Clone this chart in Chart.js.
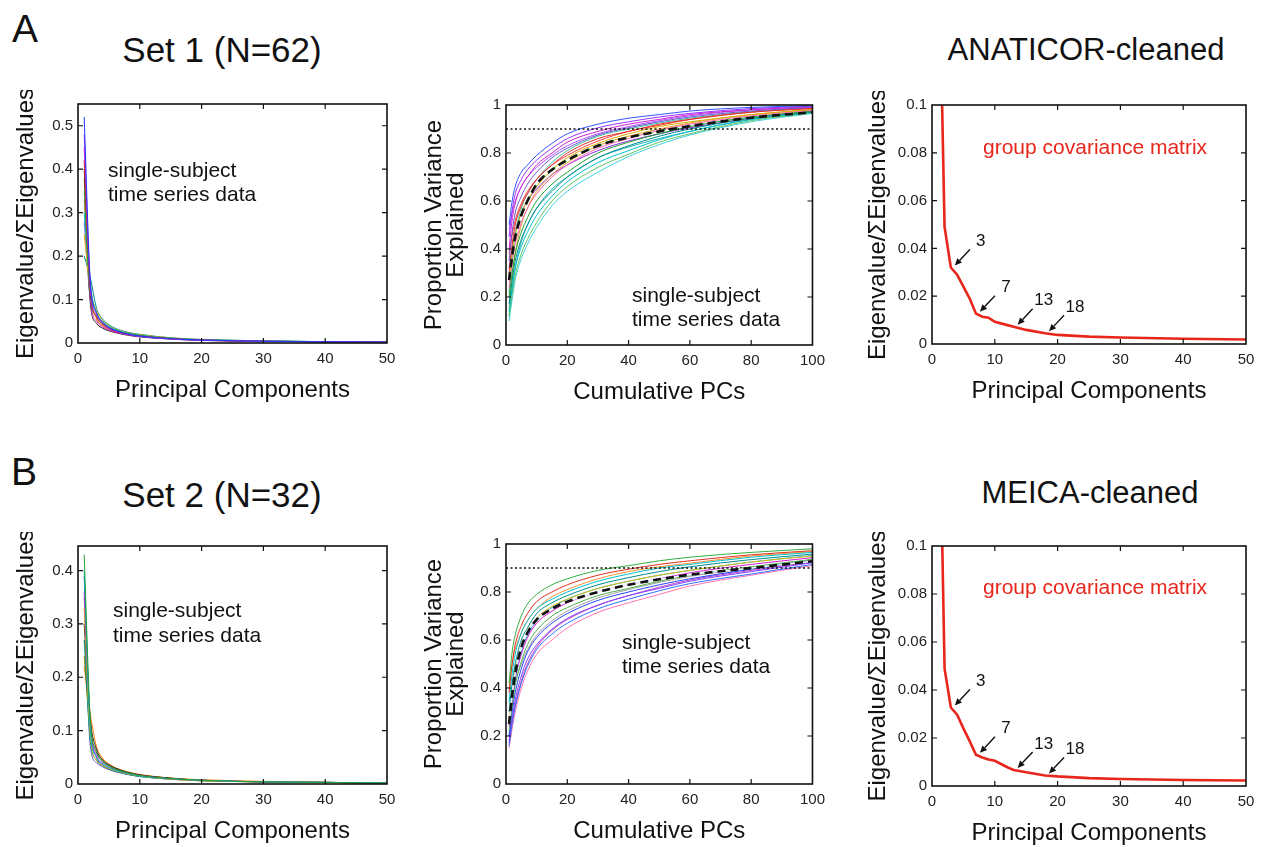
<!DOCTYPE html>
<html><head><meta charset="utf-8">
<script src="https://cdn.jsdelivr.net/npm/chart.js@4.4.0/dist/chart.umd.min.js"></script>
<style>
html,body{margin:0;padding:0;background:#fff;}
body{width:1262px;height:847px;position:relative;overflow:hidden;font-family:"Liberation Sans",Arial,Helvetica,sans-serif;color:#111;}
canvas{position:absolute;}
.t{position:absolute;white-space:nowrap;line-height:1;}
</style></head><body>
<script>
// ---------------- DATA ----------------
const spectraX = [1,2,3,4,5,6,8,10,15,20,30,40,50];
const spectraXTicks = [0,10,20,30,40,50];
const set1YTicks = [0,0.1,0.2,0.3,0.4,0.5];
const set1YLabels = ["0","0.1","0.2","0.3","0.4","0.5"];
const set2YTicks = [0,0.1,0.2,0.3,0.4];
const set2YLabels = ["0","0.1","0.2","0.3","0.4"];

const set1Spectra = [
  [0.52,0.14,0.070,0.048,0.036,0.029,0.021,0.016,0.010,0.007,0.004,0.003,0.002],
  [0.48,0.13,0.065,0.045,0.034,0.028,0.020,0.015,0.009,0.006,0.004,0.003,0.002],
  [0.42,0.12,0.060,0.042,0.033,0.027,0.020,0.016,0.010,0.007,0.004,0.003,0.002],
  [0.35,0.11,0.060,0.044,0.035,0.029,0.022,0.017,0.011,0.007,0.004,0.003,0.002],
  [0.30,0.13,0.070,0.050,0.038,0.031,0.023,0.018,0.011,0.008,0.005,0.003,0.002],
  [0.45,0.10,0.050,0.037,0.030,0.025,0.019,0.015,0.010,0.007,0.004,0.003,0.002],
  [0.25,0.12,0.075,0.052,0.040,0.032,0.024,0.019,0.012,0.008,0.005,0.003,0.002],
  [0.40,0.09,0.045,0.034,0.028,0.024,0.018,0.014,0.009,0.006,0.004,0.003,0.002],
  [0.20,0.15,0.080,0.055,0.042,0.034,0.025,0.020,0.012,0.008,0.005,0.003,0.002],
  [0.38,0.14,0.068,0.046,0.035,0.028,0.021,0.016,0.010,0.007,0.004,0.003,0.002],
  [0.33,0.11,0.055,0.040,0.032,0.026,0.020,0.015,0.010,0.006,0.004,0.003,0.002],
  [0.28,0.10,0.062,0.047,0.037,0.030,0.022,0.017,0.011,0.007,0.004,0.003,0.002]
];
const set2Spectra = [
  [0.43,0.12,0.060,0.042,0.034,0.028,0.021,0.016,0.010,0.007,0.004,0.003,0.002],
  [0.40,0.10,0.050,0.038,0.031,0.026,0.020,0.015,0.010,0.007,0.004,0.003,0.002],
  [0.36,0.11,0.055,0.040,0.033,0.027,0.020,0.016,0.010,0.007,0.004,0.003,0.002],
  [0.33,0.09,0.045,0.035,0.029,0.025,0.019,0.015,0.009,0.006,0.004,0.003,0.002],
  [0.30,0.12,0.065,0.045,0.036,0.030,0.022,0.017,0.011,0.007,0.004,0.003,0.002],
  [0.27,0.08,0.045,0.034,0.028,0.024,0.018,0.014,0.009,0.006,0.004,0.003,0.002],
  [0.24,0.10,0.060,0.044,0.035,0.029,0.022,0.017,0.011,0.007,0.004,0.003,0.002],
  [0.22,0.13,0.070,0.048,0.038,0.031,0.023,0.018,0.011,0.008,0.005,0.003,0.002],
  [0.35,0.07,0.040,0.032,0.027,0.023,0.018,0.014,0.009,0.006,0.004,0.003,0.002],
  [0.39,0.11,0.050,0.036,0.030,0.025,0.019,0.015,0.010,0.007,0.004,0.003,0.002]
];

const cumX = [1,2,3,5,7,10,15,20,30,40,50,60,80,100];
const cumXTicks = [0,20,40,60,80,100];
const cumYTicks = [0,0.2,0.4,0.6,0.8,1];
const cumYLabels = ["0","0.2","0.4","0.6","0.8","1"];
const varianceThreshold = 0.9;

const set1Cum = [
  [0.50,0.60,0.66,0.72,0.75,0.79,0.84,0.88,0.920,0.945,0.960,0.975,0.990,0.997],
  [0.45,0.56,0.63,0.69,0.73,0.77,0.82,0.86,0.905,0.930,0.950,0.965,0.985,0.995],
  [0.40,0.52,0.59,0.66,0.70,0.75,0.80,0.845,0.890,0.920,0.940,0.960,0.980,0.993],
  [0.35,0.47,0.55,0.62,0.67,0.72,0.78,0.82,0.875,0.905,0.930,0.950,0.975,0.990],
  [0.30,0.42,0.50,0.58,0.63,0.69,0.75,0.80,0.860,0.890,0.920,0.940,0.970,0.985],
  [0.27,0.38,0.46,0.55,0.60,0.66,0.73,0.78,0.840,0.880,0.910,0.930,0.960,0.982],
  [0.24,0.34,0.42,0.51,0.57,0.63,0.70,0.75,0.820,0.860,0.895,0.920,0.955,0.978],
  [0.20,0.30,0.38,0.47,0.53,0.60,0.67,0.72,0.800,0.845,0.880,0.910,0.950,0.975],
  [0.17,0.27,0.35,0.44,0.50,0.57,0.64,0.70,0.780,0.830,0.870,0.900,0.945,0.972],
  [0.14,0.24,0.32,0.41,0.47,0.54,0.62,0.68,0.760,0.810,0.855,0.890,0.940,0.970],
  [0.12,0.21,0.29,0.38,0.44,0.51,0.60,0.66,0.740,0.795,0.845,0.880,0.935,0.967],
  [0.10,0.19,0.27,0.36,0.42,0.49,0.58,0.64,0.720,0.785,0.835,0.875,0.930,0.965],
  [0.48,0.55,0.60,0.66,0.70,0.74,0.79,0.83,0.880,0.910,0.935,0.955,0.980,0.992],
  [0.38,0.46,0.52,0.59,0.64,0.69,0.75,0.79,0.850,0.890,0.915,0.940,0.970,0.987],
  [0.22,0.36,0.46,0.57,0.63,0.69,0.76,0.81,0.870,0.900,0.925,0.945,0.972,0.988],
  [0.15,0.28,0.38,0.50,0.57,0.64,0.71,0.76,0.830,0.870,0.900,0.925,0.960,0.980],
  [0.32,0.40,0.47,0.55,0.60,0.65,0.71,0.75,0.810,0.850,0.880,0.905,0.945,0.972],
  [0.12,0.23,0.32,0.43,0.50,0.57,0.65,0.70,0.780,0.825,0.860,0.890,0.940,0.968]
];
const set1CumMean = [0.27,0.37,0.45,0.54,0.60,0.67,0.73,0.77,0.83,0.865,0.89,0.912,0.947,0.97];

const set2Cum = [
  [0.42,0.55,0.62,0.70,0.75,0.79,0.83,0.855,0.890,0.910,0.930,0.945,0.965,0.980],
  [0.38,0.50,0.58,0.66,0.71,0.76,0.80,0.830,0.870,0.895,0.915,0.930,0.955,0.972],
  [0.34,0.46,0.54,0.63,0.68,0.73,0.77,0.800,0.845,0.875,0.900,0.915,0.945,0.965],
  [0.30,0.42,0.50,0.60,0.65,0.71,0.755,0.785,0.830,0.860,0.885,0.905,0.935,0.958],
  [0.27,0.38,0.47,0.57,0.63,0.69,0.74,0.770,0.815,0.845,0.870,0.890,0.925,0.950],
  [0.24,0.35,0.44,0.54,0.61,0.67,0.72,0.755,0.800,0.830,0.855,0.880,0.915,0.943],
  [0.22,0.32,0.41,0.51,0.58,0.64,0.70,0.735,0.785,0.815,0.845,0.870,0.905,0.936],
  [0.20,0.30,0.38,0.48,0.55,0.61,0.67,0.710,0.765,0.800,0.830,0.855,0.895,0.930],
  [0.18,0.27,0.35,0.45,0.52,0.58,0.645,0.690,0.745,0.785,0.815,0.845,0.885,0.922],
  [0.16,0.25,0.32,0.42,0.49,0.56,0.625,0.670,0.730,0.770,0.805,0.835,0.875,0.915],
  [0.15,0.23,0.30,0.40,0.47,0.54,0.60,0.650,0.715,0.755,0.790,0.825,0.870,0.910],
  [0.40,0.50,0.56,0.63,0.68,0.73,0.78,0.810,0.855,0.885,0.905,0.920,0.950,0.968],
  [0.20,0.33,0.43,0.55,0.62,0.68,0.735,0.770,0.815,0.845,0.870,0.890,0.925,0.952],
  [0.28,0.36,0.42,0.50,0.56,0.62,0.68,0.720,0.775,0.810,0.840,0.865,0.900,0.935],
  [0.17,0.26,0.33,0.43,0.50,0.57,0.64,0.685,0.745,0.785,0.820,0.850,0.890,0.925]
];
const set2CumMean = [0.25,0.37,0.46,0.57,0.63,0.685,0.73,0.76,0.80,0.83,0.853,0.872,0.90,0.928];

const groupX = [1,2,3,4,5,6,7,8,9,10,12,13,15,18,20,25,30,40,50];
const groupYTicks = [0,0.02,0.04,0.06,0.08,0.1];
const groupYLabels = ["0","0.02","0.04","0.06","0.08","0.1"];
const anaticorGroup = [0.18,0.049,0.032,0.029,0.024,0.019,0.0127,0.0114,0.011,0.0093,0.0079,0.0072,0.0059,0.0045,0.0038,0.0031,0.0027,0.0022,0.0019];
const meicaGroup    = [0.19,0.049,0.0327,0.0297,0.024,0.0187,0.013,0.0119,0.011,0.0105,0.0078,0.0067,0.0057,0.0044,0.0040,0.0033,0.0029,0.0025,0.0023];
const markedPCs = [3,7,13,18];

// ---------------- STYLE ----------------
const FONT = "'Liberation Sans', Arial, Helvetica, sans-serif";
Chart.defaults.font.family = FONT;
Chart.defaults.color = '#111';
const spectraColors = ['#2233ff','#9b30ff','#e0201a','#20a030','#00b8c8','#d020d0','#e8b000','#222222','#008c8c','#8c8c00','#ff7f0e','#6a5acd'];
const cum1Colors = ['#3355ff','#9b30ff','#d020d0','#6a5acd','#e03030','#d8b000','#ff66aa','#20a030','#008c8c','#00c0d0','#60c060','#40d0e0',
                    '#b050ff','#ff4040','#40c0a0','#e0a030','#8a2be2','#20b0b0'];
const cum2Colors = ['#30b040','#e03020','#00c0d0','#008c8c','#d8c000','#d020d0','#50b050','#2244ff','#8040ff','#3070ff','#ff70b0',
                    '#ff9030','#20a0ff','#a0a0a0','#c040c0'];

const framePlugin = {
  id: 'frame',
  afterDraw(chart) {
    const {ctx, chartArea: a, scales} = chart;
    ctx.save();
    ctx.strokeStyle = '#111';
    ctx.lineWidth = 1.6;
    ctx.strokeRect(a.left, a.top, a.right - a.left, a.bottom - a.top);
    ctx.lineWidth = 1.2;
    const L = 5;
    ctx.beginPath();
    scales.x.ticks.forEach(t => {
      const px = scales.x.getPixelForValue(t.value);
      if (px <= a.left + 1 || px >= a.right - 1) return;
      ctx.moveTo(px, a.bottom); ctx.lineTo(px, a.bottom - L);
      ctx.moveTo(px, a.top); ctx.lineTo(px, a.top + L);
    });
    scales.y.ticks.forEach(t => {
      const py = scales.y.getPixelForValue(t.value);
      if (py <= a.top + 1 || py >= a.bottom - 1) return;
      ctx.moveTo(a.left, py); ctx.lineTo(a.left + L, py);
      ctx.moveTo(a.right, py); ctx.lineTo(a.right - L, py);
    });
    ctx.stroke();
    ctx.restore();
  }
};

const arrowPlugin = {
  id: 'pcArrows',
  afterDatasetsDraw(chart, args, opts) {
    if (!opts || !opts.pcs) return;
    const {ctx, scales} = chart;
    ctx.save();
    ctx.strokeStyle = '#111'; ctx.fillStyle = '#111'; ctx.lineWidth = 1.4;
    ctx.font = '17px ' + FONT;
    ctx.textAlign = 'center'; ctx.textBaseline = 'middle';
    opts.pcs.forEach(pc => {
      const i = opts.xs.indexOf(pc);
      const tx = scales.x.getPixelForValue(pc) + 4;
      const ty = scales.y.getPixelForValue(opts.ys[i]) - 2;
      const sx = tx + 15, sy = ty - 16;
      const ang = Math.atan2(ty - sy, tx - sx);
      const hl = 7, hw = 3.2;
      const bx = tx - hl * Math.cos(ang), by = ty - hl * Math.sin(ang);
      ctx.beginPath(); ctx.moveTo(sx, sy); ctx.lineTo(bx, by); ctx.stroke();
      ctx.beginPath();
      ctx.moveTo(tx, ty);
      ctx.lineTo(bx + hw * Math.sin(ang), by - hw * Math.cos(ang));
      ctx.lineTo(bx - hw * Math.sin(ang), by + hw * Math.cos(ang));
      ctx.closePath(); ctx.fill();
      ctx.fillText(String(pc), tx + 26, ty - 24);
    });
    ctx.restore();
  }
};

function makeChart(cfg) {
  const pt = 10, pr = 16;
  const yW = cfg.yW, xH = 66;
  const w = (cfg.box[2] - cfg.box[0]) + yW + pr;
  const h = (cfg.box[3] - cfg.box[1]) + pt + xH;
  const cv = document.createElement('canvas');
  cv.width = w; cv.height = h;
  cv.style.left = (cfg.box[0] - yW) + 'px';
  cv.style.top = (cfg.box[1] - pt) + 'px';
  cv.style.width = w + 'px'; cv.style.height = h + 'px';
  document.body.appendChild(cv);
  const titleFont = {size: 24, family: FONT, lineHeight: cfg.yLineHeight || 1.2};
  return new Chart(cv, {
    type: 'line',
    data: {datasets: cfg.datasets},
    options: {
      responsive: false, animation: false, devicePixelRatio: 1, events: [],
      layout: {padding: {top: pt, right: pr, left: 0, bottom: 0}},
      elements: {point: {radius: 0}},
      plugins: {legend: {display: false}, tooltip: {enabled: false}, pcArrows: cfg.arrows || {}},
      scales: {
        x: {
          type: 'linear', min: cfg.xTicks[0], max: cfg.xTicks[cfg.xTicks.length - 1],
          grid: {display: false, drawTicks: false}, border: {display: false},
          afterBuildTicks: s => { s.ticks = cfg.xTicks.map(v => ({value: v})); },
          afterFit: s => { s.height = xH; },
          ticks: {padding: 7, font: {size: 15, family: FONT}, color: '#222', maxRotation: 0,
                  callback: (v, i) => String(cfg.xTicks[i])},
          title: {display: true, text: cfg.xTitle, font: {size: 24, family: FONT}, color: '#111', padding: {top: 4, bottom: 4}}
        },
        y: {
          type: 'linear', min: cfg.yMin, max: cfg.yMax,
          grid: {display: false, drawTicks: false}, border: {display: false},
          afterBuildTicks: s => { s.ticks = cfg.yTicks.map(v => ({value: v})); },
          afterFit: s => { s.width = yW; },
          ticks: {padding: 5, font: {size: 15, family: FONT}, color: '#222',
                  callback: (v, i) => cfg.yLabels[i]},
          title: {display: true, text: cfg.yTitle, font: titleFont, color: '#111', padding: {top: 4, bottom: 4}}
        }
      }
    },
    plugins: [framePlugin, arrowPlugin]
  });
}

function curves(xs, list, colors, width, order0) {
  return list.map((ys, k) => ({
    data: xs.map((x, i) => ({x, y: ys[i]})),
    borderColor: colors[k % colors.length], borderWidth: width,
    cubicInterpolationMode: 'monotone', fill: false, order: order0 + k
  }));
}
function hline(val, xmin, xmax) {
  return {data: [{x: xmin, y: val}, {x: xmax, y: val}], borderColor: '#111', borderWidth: 1.5,
          borderDash: [2, 2.5], fill: false, order: 1};
}
function line(xs, ys, o) {
  return Object.assign({data: xs.map((x, i) => ({x, y: ys[i]})), fill: false, cubicInterpolationMode: 'monotone'}, o);
}

const eigTitle = 'Eigenvalue/\u03A3Eigenvalues';

// Panel A-left
makeChart({box: [78,100,387,343], yW: 70, xTicks: spectraXTicks, yTicks: set1YTicks, yLabels: set1YLabels,
  yMin: 0, yMax: 0.55, xTitle: 'Principal Components', yTitle: eigTitle,
  datasets: curves(spectraX, set1Spectra, spectraColors, 1, 10)});
// Panel A-middle
makeChart({box: [506,101,816,345], yW: 87, xTicks: cumXTicks, yTicks: cumYTicks, yLabels: cumYLabels,
  yMin: 0, yMax: 1, xTitle: 'Cumulative PCs', yTitle: ['Proportion Variance', 'Explained'], yLineHeight: 0.92,
  datasets: [
    line(cumX, set1CumMean, {borderColor: '#111', borderWidth: 2.6, borderDash: [8, 5], order: 0}),
    line(cumX, set1CumMean, {borderColor: '#44b044', borderWidth: 2, borderDash: [5, 8], borderDashOffset: 9, order: 1}),
    hline(varianceThreshold, 0, 100)
  ].concat(curves(cumX, set1Cum, cum1Colors, 1, 10))});
// Panel A-right
makeChart({box: [932,101,1246,344], yW: 72, xTicks: spectraXTicks, yTicks: groupYTicks, yLabels: groupYLabels,
  yMin: 0, yMax: 0.1, xTitle: 'Principal Components', yTitle: eigTitle,
  arrows: {pcs: markedPCs, xs: groupX, ys: anaticorGroup},
  datasets: [line(groupX, anaticorGroup, {borderColor: '#e8261c', borderWidth: 2.6, cubicInterpolationMode: 'default', tension: 0, order: 0})]});
// Panel B-left
makeChart({box: [78,542,387,784], yW: 70, xTicks: spectraXTicks, yTicks: set2YTicks, yLabels: set2YLabels,
  yMin: 0, yMax: 0.446, xTitle: 'Principal Components', yTitle: eigTitle,
  datasets: curves(spectraX, set2Spectra, spectraColors.slice(3).concat(spectraColors.slice(0,3)), 1, 10)});
// Panel B-middle
makeChart({box: [506,540,816,784], yW: 87, xTicks: cumXTicks, yTicks: cumYTicks, yLabels: cumYLabels,
  yMin: 0, yMax: 1, xTitle: 'Cumulative PCs', yTitle: ['Proportion Variance', 'Explained'], yLineHeight: 0.92,
  datasets: [
    line(cumX, set2CumMean, {borderColor: '#111', borderWidth: 2.6, borderDash: [8, 5], order: 0}),
    line(cumX, set2CumMean, {borderColor: '#e8f4ff', borderWidth: 1.4, order: 1}),
    hline(varianceThreshold, 0, 100)
  ].concat(curves(cumX, set2Cum, cum2Colors, 1, 10))});
// Panel B-right
makeChart({box: [932,542,1246,786], yW: 72, xTicks: spectraXTicks, yTicks: groupYTicks, yLabels: groupYLabels,
  yMin: 0, yMax: 0.1, xTitle: 'Principal Components', yTitle: eigTitle,
  arrows: {pcs: markedPCs, xs: groupX, ys: meicaGroup},
  datasets: [line(groupX, meicaGroup, {borderColor: '#e8261c', borderWidth: 2.6, cubicInterpolationMode: 'default', tension: 0, order: 0})]});

// ---------------- TEXT ----------------
function txt(s, x, baseline, size, opt) {
  opt = opt || {};
  const d = document.createElement('div');
  d.className = 't';
  d.textContent = s;
  d.style.fontSize = size + 'px';
  d.style.top = (baseline - 0.8465 * size) + 'px';
  if (opt.center) { d.style.left = (x - 250) + 'px'; d.style.width = '500px'; d.style.textAlign = 'center'; }
  else d.style.left = x + 'px';
  if (opt.color) d.style.color = opt.color;
  document.body.appendChild(d);
}
txt('A', 12, 42, 39);
txt('B', 11, 485, 39);
txt('Set 1 (N=62)', 222, 62, 35, {center: true});
txt('Set 2 (N=32)', 222, 507, 35, {center: true});
txt('ANATICOR-cleaned', 1086, 60, 31, {center: true});
txt('MEICA-cleaned', 1090, 503, 31, {center: true});
txt('single-subject', 108, 177, 21);
txt('time series data', 108, 201, 21);
txt('single-subject', 632, 302, 21);
txt('time series data', 632, 326, 21);
txt('single-subject', 113, 617, 21);
txt('time series data', 113, 642, 21);
txt('single-subject', 622, 649, 21);
txt('time series data', 622, 673, 21);
txt('group covariance matrix', 983, 154, 21, {color: '#e8261c'});
txt('group covariance matrix', 983, 594, 21, {color: '#e8261c'});
</script>
</body></html>
